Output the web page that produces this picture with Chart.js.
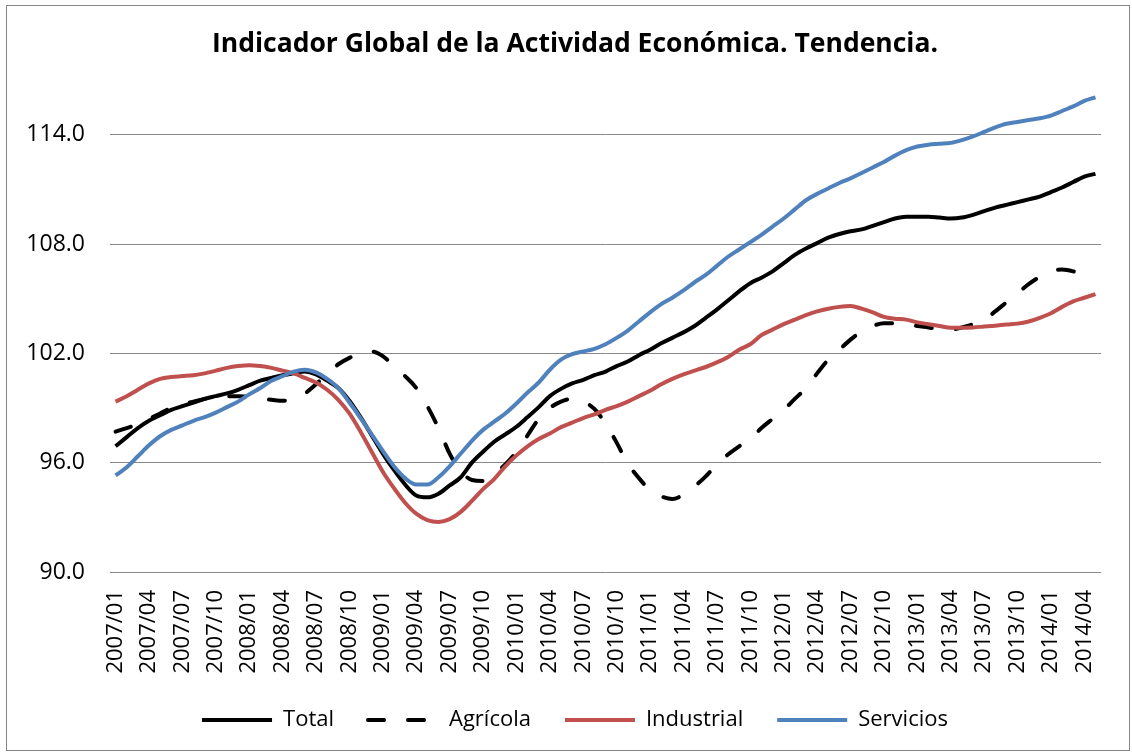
<!DOCTYPE html>
<html>
<head>
<meta charset="utf-8">
<script src="https://cdn.jsdelivr.net/npm/chart.js@4"></script>
<style>
  body { margin: 0; background: #fff; }
  #wrap { width: 1132px; height: 755px; }
</style>
</head>
<body>
<div id="wrap"><canvas id="myChart" width="1132" height="755"></canvas></div>
<script>
// monthly categories 2007/01 .. 2014/05
var months = [];
for (var y = 2007; y <= 2014; y++) {
  for (var m = 1; m <= 12; m++) {
    if (y === 2014 && m > 5) break;
    months.push(y + "/" + (m < 10 ? "0" + m : m));
  }
}

var yTicks = [90, 96, 102, 108, 114];

var total = [
  96.9, 97.4, 97.9, 98.3, 98.6, 98.9, 99.1, 99.3, 99.5, 99.65, 99.8, 100.0,
  100.25, 100.5, 100.65, 100.8, 100.9, 101.0, 100.85, 100.5, 100.1, 99.4, 98.5, 97.5,
  96.5, 95.6, 94.8, 94.2, 94.1, 94.3, 94.75, 95.2, 96.0, 96.6, 97.15, 97.55,
  97.97, 98.5, 99.05, 99.65, 100.05, 100.35, 100.55, 100.8, 101.0, 101.3, 101.55, 101.9,
  102.2, 102.55, 102.85, 103.15, 103.5, 103.95, 104.4, 104.9, 105.4, 105.85, 106.15, 106.5,
  106.95, 107.4, 107.75, 108.05, 108.35, 108.55, 108.7, 108.8, 109.0, 109.2, 109.4, 109.5,
  109.5, 109.5, 109.45, 109.4, 109.45, 109.6, 109.8, 110.0, 110.15, 110.3, 110.45, 110.6,
  110.85, 111.1, 111.4, 111.7, 111.85
];

var agricola = [
  97.7, 97.9, 98.1, 98.4, 98.7, 99.0, 99.2, 99.35, 99.5, 99.6, 99.65, 99.65,
  99.6, 99.5, 99.45, 99.4, 99.5, 99.8, 100.3, 100.9, 101.4, 101.75, 102.0, 102.1,
  101.85, 101.3, 100.75, 100.1, 99.1, 97.9, 96.5, 95.55, 95.05, 95.0, 95.4, 95.9,
  96.6, 97.5, 98.4, 99.0, 99.35, 99.5, 99.35, 98.95, 98.15, 97.1, 95.95, 95.15,
  94.5, 94.15, 94.0, 94.25, 94.7, 95.25, 95.9, 96.45, 96.9, 97.3, 97.9, 98.4,
  98.9, 99.5, 100.1, 100.9, 101.65, 102.2, 102.75, 103.2, 103.5, 103.65, 103.65, 103.6,
  103.5, 103.42, 103.33, 103.3, 103.42, 103.6, 103.85, 104.3, 104.8, 105.3, 105.8, 106.2,
  106.5, 106.6, 106.5, 106.3, 106.05
];

var industrial = [
  99.35, 99.65, 100.0, 100.35, 100.6, 100.7, 100.75, 100.8, 100.9, 101.05, 101.2, 101.3,
  101.35, 101.3, 101.2, 101.05, 100.9, 100.65, 100.4, 100.0, 99.45, 98.7, 97.7, 96.6,
  95.5, 94.6, 93.8, 93.2, 92.85, 92.75, 92.9, 93.3, 93.9, 94.55, 95.1, 95.8,
  96.4, 96.9, 97.3, 97.6, 97.95, 98.2, 98.45, 98.65, 98.9, 99.1, 99.35, 99.65,
  99.95, 100.3, 100.6, 100.85, 101.05, 101.25, 101.5, 101.8, 102.2, 102.5, 103.0, 103.3,
  103.6, 103.85, 104.1, 104.3, 104.45, 104.55, 104.6, 104.45, 104.25, 104.0, 103.9, 103.85,
  103.7, 103.6, 103.5, 103.4, 103.4, 103.42, 103.47, 103.52, 103.58, 103.63, 103.75, 103.95,
  104.2, 104.55, 104.85, 105.05, 105.25
];

var servicios = [
  95.3, 95.75, 96.35, 96.95, 97.45, 97.8, 98.05, 98.3, 98.5, 98.75, 99.05, 99.35,
  99.75, 100.1, 100.5, 100.75, 101.0, 101.1, 100.95, 100.6, 100.1, 99.3, 98.45, 97.55,
  96.65, 95.8, 95.15, 94.8, 94.8, 95.2, 95.8, 96.5, 97.2, 97.8, 98.25, 98.7,
  99.25, 99.85, 100.4, 101.1, 101.65, 101.95, 102.1, 102.25, 102.5, 102.85, 103.25, 103.75,
  104.25, 104.7, 105.05, 105.45, 105.9, 106.3, 106.8, 107.3, 107.7, 108.1, 108.5, 108.95,
  109.4, 109.9, 110.4, 110.75, 111.05, 111.35, 111.6, 111.9, 112.2, 112.5, 112.85, 113.15,
  113.35, 113.45, 113.5, 113.55, 113.7, 113.9, 114.15, 114.4, 114.6, 114.7, 114.8, 114.9,
  115.05, 115.3, 115.55, 115.85, 116.05
];

var FONT = "'Open Sans', 'Noto Sans', sans-serif";

// white background + thin grey frame like the Excel chart area
var frame = {
  id: "frame",
  beforeDraw: function(chart) {
    var c = chart.ctx;
    c.save();
    c.fillStyle = "#ffffff";
    c.fillRect(0, 0, chart.width, chart.height);
    c.strokeStyle = "#868686";
    c.lineWidth = 1;
    c.strokeRect(6.5, 5.5, 1123, 745);
    c.restore();
  }
};

// legend gets wide gaps between items, then title/legend are nudged into place
var placeBlocks = {
  id: "placeBlocks",
  beforeInit: function(chart) {
    var fit = chart.legend.fit;
    chart.legend.fit = function() {
      fit.call(this);
      this.height = 755 - 687;
    };
  },
  afterLayout: function(chart) {
    var lg = chart.legend, tb = chart.titleBlock;
    var h = lg.height;
    lg.top = 720 - 34 - 11;
    lg.bottom = lg.top + h;
    lg.left += 9; lg.right += 9;
    tb.left += 9; tb.right += 9;
  }
};

var ctx = document.getElementById("myChart").getContext("2d");
var chart = new Chart(ctx, {
  type: "line",
  data: {
    labels: months,
    datasets: [
      {
        label: "Total",
        data: total,
        borderColor: "#000000",
        borderWidth: 4,
        order: 4
      },
      {
        label: "Agrícola",
        data: agricola,
        borderColor: "#000000",
        borderWidth: 4,
        borderDash: [16, 24],
        borderCapStyle: "round",
        order: 3
      },
      {
        label: "Industrial",
        data: industrial,
        borderColor: "#C0504D",
        borderWidth: 4,
        order: 2
      },
      {
        label: "Servicios",
        data: servicios,
        borderColor: "#4F81BD",
        borderWidth: 4,
        order: 1
      }
    ]
  },
  options: {
    responsive: false,
    animation: false,
    devicePixelRatio: 1,
    layout: { padding: { left: 22, right: 22, top: 0, bottom: 0 } },
    elements: {
      point: { radius: 0 },
      line: { cubicInterpolationMode: "monotone", fill: false }
    },
    plugins: {
      title: {
        display: true,
        text: "Indicador Global de la Actividad Económica. Tendencia.",
        color: "#000",
        font: { family: FONT, size: 26.5, weight: "bold" },
        padding: { top: 29, bottom: 19.2 }
      },
      legend: {
        position: "bottom",
        labels: {
          color: "#000",
          font: { family: FONT, size: 22 },
          usePointStyle: true,
          pointStyle: "line",
          pointStyleWidth: 70,
          padding: 34,
          sort: function(a, b) { return a.datasetIndex - b.datasetIndex; },
          generateLabels: function(chart) {
            var items = Chart.defaults.plugins.legend.labels.generateLabels(chart);
            items.forEach(function(it) {
              var ds = chart.data.datasets[it.datasetIndex];
              it.lineDash = ds.borderDash || [];
              it.lineCap = ds.borderDash ? "round" : "butt";
              it.lineWidth = 4;
            });
            return items;
          }
        }
      },
      tooltip: { enabled: false }
    },
    scales: {
      x: {
        offset: true,
        grid: { display: false },
        border: { display: false },
        afterFit: function(scale) { scale.height = 115; },
        ticks: {
          autoSkip: false,
          minRotation: 90,
          maxRotation: 90,
          padding: 10,
          color: "#000",
          font: { family: FONT, size: 22 },
          callback: function(v, i) { return i % 3 === 0 ? months[i] : ""; }
        }
      },
      y: {
        min: 90,
        max: 117,
        afterBuildTicks: function(scale) {
          scale.ticks = yTicks.map(function(v) { return { value: v }; });
        },
        afterFit: function(scale) { scale.width = 88; },
        grid: { color: "#898989", lineWidth: 1, drawTicks: false },
        border: { display: false },
        ticks: {
          padding: 25,
          color: "#000",
          font: { family: FONT, size: 23 },
          callback: function(v) { return Number(v).toFixed(1); }
        }
      }
    }
  },
  plugins: [frame, placeBlocks]
});
</script>
</body>
</html>
